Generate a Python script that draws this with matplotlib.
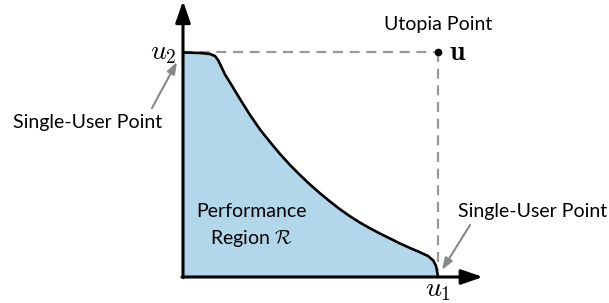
import numpy as np
import matplotlib
matplotlib.use("Agg")
import matplotlib.pyplot as plt

# Pareto boundary of the performance region (u1, u2 normalised so the utopia point is (1, 1))
u1_curve = [0.0, 0.0667, 0.1059, 0.1255, 0.1373, 0.149, 0.1647, 0.1843, 0.2235, 0.2627,
            0.302, 0.3412, 0.3804, 0.4196, 0.4588, 0.498, 0.5373, 0.5765, 0.6157, 0.6549,
            0.6941, 0.7333, 0.7725, 0.8118, 0.851, 0.8902, 0.9294, 0.9608, 0.9816, 0.9922,
            0.9973, 1.0]
u2_curve = [0.9978, 0.9956, 0.9911, 0.9822, 0.9644, 0.9378, 0.9, 0.8644, 0.7911, 0.72,
            0.6556, 0.6, 0.5467, 0.4978, 0.4533, 0.4111, 0.372, 0.3356, 0.3009, 0.2698,
            0.2418, 0.2164, 0.1929, 0.1711, 0.1489, 0.1289, 0.1098, 0.0933, 0.0733, 0.0489,
            0.02, 0.0]
utopia = (1.0, 1.0)

text_font = ["Lato", "DejaVu Sans"]
plt.rcParams["mathtext.fontset"] = "cm"

fig = plt.figure(figsize=(6.09, 3.03), dpi=100)
ax = fig.add_axes([0, 0, 1, 1])
ax.set_xlim(-0.7176, 1.6706)
ax.set_ylim(-0.1156, 1.2311)
ax.axis("off")

# region fill and boundary
x = np.array(u1_curve)
y = np.array(u2_curve)
ax.fill(np.concatenate([x, [0.0]]), np.concatenate([y, [0.0]]), color="#b2d7eb", lw=0, zorder=1)
ax.plot(x, y, color="black", lw=1.9, zorder=3, solid_capstyle="round", solid_joinstyle="round")

# dashed lines to the utopia point
ax.plot([0, utopia[0]], [utopia[1], utopia[1]], color="#999999", lw=1.6,
        dashes=(4.5, 3), zorder=2)
ax.plot([utopia[0], utopia[0]], [utopia[1], 0.03], color="#999999", lw=1.6,
        dashes=(4.5, 3), zorder=2)
ax.plot([utopia[0]], [utopia[1]], "o", color="black", ms=4.5, zorder=4)

# axes with arrows
arrow_kw = dict(arrowstyle="-|>,head_length=1.3,head_width=0.45", color="black",
                lw=2.2, shrinkA=0, shrinkB=0)
ax.annotate("", xy=(0, 1.227), xytext=(0, -0.003), arrowprops=arrow_kw, zorder=5)
ax.annotate("", xy=(1.176, 0), xytext=(-0.004, 0), arrowprops=arrow_kw, zorder=5)

# labels
ax.text(-0.025, 1.0, r"$u_2$", fontsize=20, ha="right", va="center")
ax.text(1.0, -0.055, r"$u_1$", fontsize=20, ha="center", va="center")
ax.text(1.045, 1.0, r"$\mathbf{u}$", fontsize=20, ha="left", va="center")
ax.text(1.0, 1.122, "Utopia Point", fontsize=14, family=text_font, ha="center", va="center")

gray_arrow = dict(arrowstyle="-|>,head_length=0.7,head_width=0.25", color="#888888",
                  lw=1.5, shrinkA=0, shrinkB=0)
ax.text(-0.3725, 0.685, "Single-User Point", fontsize=14, family=text_font,
        ha="center", va="center")
ax.annotate("", xy=(-0.0235, 0.956), xytext=(-0.1216, 0.751), arrowprops=gray_arrow)
ax.text(1.3725, 0.29, "Single-User Point", fontsize=14, family=text_font,
        ha="center", va="center")
ax.annotate("", xy=(1.0157, 0.031), xytext=(1.1255, 0.231), arrowprops=gray_arrow)

ax.text(0.267, 0.289, "Performance", fontsize=14, family=text_font, ha="center", va="center")
ax.text(0.267, 0.169, r"Region $\mathcal{R}$", fontsize=14, family=text_font,
        ha="center", va="center")

fig.savefig("out.png", dpi=100)
